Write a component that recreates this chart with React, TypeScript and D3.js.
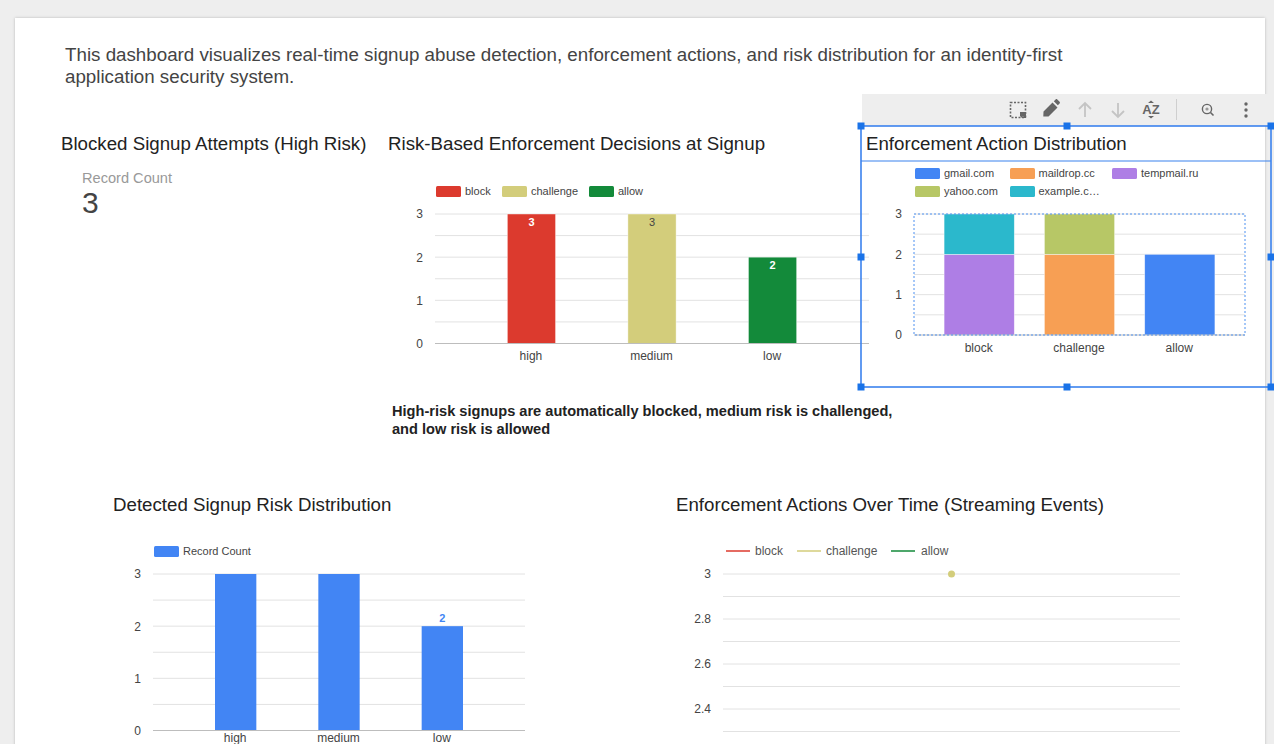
import { axisLeft, line, scaleBand, scaleLinear, scalePoint, select, stack } from 'd3';
import { useEffect, useRef } from 'react';

const riskLevels = ['high', 'medium', 'low'];
const actions = ['block', 'challenge', 'allow'];
const domains = ['gmail.com', 'maildrop.cc', 'tempmail.ru', 'yahoo.com', 'example.c…'];
const eventTimes = ['t1'];

const blockByRisk = [3, 0, 0];
const challengeByRisk = [0, 3, 0];
const allowByRisk = [0, 0, 2];

const gmailByAction = [0, 0, 2];
const maildropByAction = [0, 2, 0];
const tempmailByAction = [2, 0, 0];
const yahooByAction = [0, 1, 0];
const exampleByAction = [1, 0, 0];

const recordCountByRisk = [3, 3, 2];
const challengeOverTime = [3];

const countTicks = [0, 1, 2, 3];
const countMinorTicks = [0.5, 1, 1.5, 2, 2.5, 3];
const timeTicks = [2.4, 2.6, 2.8, 3];
const timeMinorTicks = [2.3, 2.4, 2.5, 2.6, 2.7, 2.8, 2.9, 3];

const actionColors = ['#dc3a2e', '#d3cd7b', '#138a3a'];
const domainColors = ['#4285f4', '#f79f54', '#ae7ee5', '#b7c766', '#2bb8cc'];
const blue = '#4285f4';
const selBlue = '#3b82ee';
const arial = '"Liberation Sans", Arial, sans-serif';

type Sel = any;

function text(g: Sel, x: number, y: number, s: string, size: number, fill: string, extra: any = {}) {
  const t = g
    .append('text')
    .attr('x', x)
    .attr('y', y)
    .attr('font-family', arial)
    .attr('font-size', size)
    .attr('fill', fill)
    .text(s);
  if (extra.anchor) t.attr('text-anchor', extra.anchor);
  if (extra.weight) t.attr('font-weight', extra.weight);
  return t;
}

function grid(g: Sel, y: any, ticks: number[], x0: number, x1: number) {
  g.selectAll(null)
    .data(ticks)
    .enter()
    .append('line')
    .attr('x1', x0)
    .attr('x2', x1)
    .attr('y1', (d: number) => y(d))
    .attr('y2', (d: number) => y(d))
    .attr('stroke', '#e2e2e2')
    .attr('stroke-width', 1);
}

function yAxis(g: Sel, y: any, ticks: number[], x: number) {
  const a = g
    .append('g')
    .attr('transform', `translate(${x},0)`)
    .call(axisLeft(y).tickValues(ticks).tickSize(0).tickPadding(0).tickFormat((d: any) => String(d)));
  a.select('.domain').remove();
  a.selectAll('text').attr('font-family', arial).attr('font-size', 12).attr('fill', '#444');
}

function swatches(g: Sel, names: string[], colors: string[], xs: number[], ys: number[], textXs: number[]) {
  names.forEach((n, i) => {
    g.append('rect').attr('x', xs[i]).attr('y', ys[i] - 5.5).attr('width', 25).attr('height', 11).attr('rx', 1.5).attr('fill', colors[i]);
    text(g, textXs[i], ys[i] + 3.5, n, 11, '#444');
  });
}

function stackedBars(g: Sel, cats: string[], keys: string[], series: number[][], colors: string[], x: any, y: any) {
  const rows = cats.map((c, i) => {
    const r: any = { cat: c };
    keys.forEach((k, j) => (r[k] = series[j][i]));
    return r;
  });
  const layers = stack().keys(keys)(rows);
  layers.forEach((layer: any, j: number) => {
    g.selectAll(null)
      .data(layer.filter((d: any) => d[1] > d[0]))
      .enter()
      .append('rect')
      .attr('x', (d: any) => x(d.data.cat))
      .attr('y', (d: any) => y(d[1]))
      .attr('width', x.bandwidth())
      .attr('height', (d: any) => y(d[0]) - y(d[1]))
      .attr('fill', colors[j])
      .attr('stroke', 'white')
      .attr('stroke-opacity', 0.6)
      .attr('stroke-width', 0.7);
  });
}

function catLabels(g: Sel, cats: string[], x: any, yPos: number) {
  cats.forEach((c) => {
    text(g, x(c)! + x.bandwidth() / 2 - 0.5, yPos, c, 12, '#444', { anchor: 'middle' });
  });
}

function baseline(g: Sel, x0: number, x1: number, yPos: number) {
  g.append('line').attr('x1', x0).attr('x2', x1).attr('y1', yPos).attr('y2', yPos).attr('stroke', '#bdbdbd').attr('stroke-width', 1);
}

function drawToolbar(svg: Sel) {
  const g = svg.append('g');
  g.append('rect').attr('x', 862).attr('y', 94).attr('width', 412).attr('height', 32).attr('fill', '#eeeeee');
  const ic = '#666';
  const off = '#c4c4c4';
  // select icon
  g.append('rect').attr('x', 1010.5).attr('y', 102.5).attr('width', 15).attr('height', 15).attr('fill', 'none').attr('stroke', ic).attr('stroke-width', 1.6).attr('stroke-dasharray', '2 1.5');
  g.append('path').attr('d', 'M1020 112h6v6h-2l-1-2-1 2-2-2z').attr('fill', ic);
  // pencil
  g.append('path').attr('d', 'M1043.5 111.5l9-9 5 5-9 9h-5.2zM1053.8 101.2l1.8-1.8c.5-.5 1.2-.5 1.7 0l2.3 2.3c.5.5.5 1.2 0 1.7l-1.8 1.8z').attr('fill', ic);
  // up / down arrows
  g.append('path').attr('d', 'M1085 117v-14M1079 109l6-6 6 6').attr('fill', 'none').attr('stroke', off).attr('stroke-width', 1.8);
  g.append('path').attr('d', 'M1118 103v14M1112 111l6 6 6-6').attr('fill', 'none').attr('stroke', off).attr('stroke-width', 1.8);
  // sort
  text(g, 1151, 114, 'AZ', 13, ic, { anchor: 'middle', weight: 700 });
  g.append('path').attr('d', 'M1148 103l3-2.5 3 2.5zM1148 116l3 2.5 3-2.5z').attr('fill', ic);
  g.append('line').attr('x1', 1176.5).attr('x2', 1176.5).attr('y1', 99).attr('y2', 120).attr('stroke', '#cfcfcf');
  // zoom
  g.append('circle').attr('cx', 1207).attr('cy', 109).attr('r', 4.6).attr('fill', 'none').attr('stroke', ic).attr('stroke-width', 1.4);
  g.append('path').attr('d', 'M1210.5 112.5l3 3').attr('stroke', ic).attr('stroke-width', 1.6);
  g.append('circle').attr('cx', 1207).attr('cy', 109).attr('r', 1.6).attr('fill', '#999');
  // more
  [104, 110, 116].forEach((cy) => g.append('circle').attr('cx', 1246).attr('cy', cy).attr('r', 1.7).attr('fill', ic));
}

function drawSelection(svg: Sel) {
  const g = svg.append('g');
  g.append('rect').attr('x', 861).attr('y', 126).attr('width', 410).attr('height', 261).attr('fill', 'none').attr('stroke', selBlue).attr('stroke-width', 1.6);
  g.append('line').attr('x1', 861).attr('x2', 1271).attr('y1', 161).attr('y2', 161).attr('stroke', selBlue).attr('stroke-width', 1.1);
  const hx = [861, 1067, 1271];
  const hy = [126, 257, 387];
  hx.forEach((x, i) =>
    hy.forEach((y, j) => {
      if (i === 1 && j === 1) return;
      g.append('rect').attr('x', x - 3.5).attr('y', y - 3.5).attr('width', 7).attr('height', 7).attr('fill', '#1a73e8');
    }),
  );
}

export default function App() {
  const svgRef = useRef<SVGSVGElement>(null);

  useEffect(() => {
    const svg = select(svgRef.current) as Sel;
    svg.selectAll('*').remove();

    // page + card
    svg.append('rect').attr('width', 1274).attr('height', 744).attr('fill', '#eeeeee');
    const defs = svg.append('defs');
    const blur = defs.append('filter').attr('id', 'cardShadow').attr('x', '-2%').attr('y', '-2%').attr('width', '104%').attr('height', '104%');
    blur.append('feDropShadow').attr('dx', 0).attr('dy', 0).attr('stdDeviation', 1.5).attr('flood-color', '#000').attr('flood-opacity', 0.22);
    svg.append('rect').attr('x', 15).attr('y', 18).attr('width', 1250).attr('height', 740).attr('fill', 'white').attr('filter', 'url(#cardShadow)');

    // header copy
    text(svg, 65, 61, 'This dashboard visualizes real-time signup abuse detection, enforcement actions, and risk distribution for an identity-first', 18.75, '#444');
    text(svg, 65, 83, 'application security system.', 18.75, '#444');

    // scorecard
    text(svg, 61, 150, 'Blocked Signup Attempts (High Risk)', 18.7, '#222');
    text(svg, 82, 183, 'Record Count', 14.6, '#999');
    text(svg, 82, 213, '3', 30, '#444');

    // risk-based enforcement
    text(svg, 388, 150, 'Risk-Based Enforcement Decisions at Signup', 18.7, '#222');
    const x1 = scaleBand<string>().domain(riskLevels).range([435, 869]).padding(0.6);
    const y1 = scaleLinear().domain([0, 3]).range([343.5, 214]);
    const g1 = svg.append('g');
    grid(g1, y1, countMinorTicks, 435, 869);
    stackedBars(g1, riskLevels, actions, [blockByRisk, challengeByRisk, allowByRisk], actionColors, x1, y1);
    baseline(g1, 435, 869, y1(0));
    yAxis(g1, y1, countTicks, 423);
    catLabels(g1, riskLevels, x1, 360);
    swatches(g1, actions, actionColors, [436, 502, 589], [191.5, 191.5, 191.5], [465, 531, 618]);
    const labelColors = ['white', '#444', 'white'];
    riskLevels.forEach((r, i) => {
      const v = blockByRisk[i] + challengeByRisk[i] + allowByRisk[i];
      text(g1, x1(r)! + x1.bandwidth() / 2, y1(v) + 12, String(v), 11, labelColors[i], { anchor: 'middle', weight: i === 1 ? 400 : 700 });
    });

    // annotation
    text(svg, 392, 416, 'High-risk signups are automatically blocked, medium risk is challenged,', 14.6, '#222', { weight: 700 });
    text(svg, 392, 434, 'and low risk is allowed', 14.6, '#222', { weight: 700 });

    // toolbar + selected chart
    drawToolbar(svg);
    text(svg, 866, 150, 'Enforcement Action Distribution', 18.7, '#222');
    const x2 = scaleBand<string>().domain(actions).range([914, 1245]).padding(0.3);
    const y2 = scaleLinear().domain([0, 3]).range([335, 214]);
    const g2 = svg.append('g');
    grid(g2, y2, countMinorTicks, 914, 1245);
    stackedBars(g2, actions, domains, [gmailByAction, maildropByAction, tempmailByAction, yahooByAction, exampleByAction], domainColors, x2, y2);
    baseline(g2, 914, 1245, y2(0));
    yAxis(g2, y2, countTicks, 902);
    catLabels(g2, actions, x2, 352);
    swatches(g2, domains, domainColors, [915, 1010, 1112, 915, 1010], [173.5, 173.5, 173.5, 191.5, 191.5], [944, 1038.5, 1141, 944, 1038.5]);
    g2.append('rect').attr('x', 914).attr('y', 214).attr('width', 331).attr('height', 121).attr('fill', 'none').attr('stroke', '#4d90f0').attr('stroke-dasharray', '2 2');
    drawSelection(svg);

    // risk distribution
    text(svg, 113, 511, 'Detected Signup Risk Distribution', 18.7, '#222');
    const x3 = scaleBand<string>().domain(riskLevels).range([153, 525]).padding(0.6);
    const y3 = scaleLinear().domain([0, 3]).range([730.5, 574]);
    const g3 = svg.append('g');
    grid(g3, y3, countMinorTicks, 153, 525);
    g3.selectAll(null)
      .data(riskLevels)
      .enter()
      .append('rect')
      .attr('x', (d: string) => x3(d)!)
      .attr('y', (_: string, i: number) => y3(recordCountByRisk[i]))
      .attr('width', x3.bandwidth())
      .attr('height', (_: string, i: number) => y3(0) - y3(recordCountByRisk[i]))
      .attr('fill', blue);
    baseline(g3, 153, 525, y3(0));
    yAxis(g3, y3, countTicks, 141);
    catLabels(g3, riskLevels, x3, 742);
    swatches(g3, ['Record Count'], [blue], [154], [551.5], [183]);
    text(g3, x3('low')! + x3.bandwidth() / 2, y3(2) - 4.5, '2', 11, blue, { anchor: 'middle', weight: 700 });

    // over time
    text(svg, 676, 511, 'Enforcement Actions Over Time (Streaming Events)', 18.7, '#222');
    const x4 = scalePoint<string>().domain(eventTimes).range([723, 1180]).padding(0.5);
    const y4 = scaleLinear().domain([2, 3]).range([799, 574]);
    const g4 = svg.append('g');
    grid(g4, y4, timeMinorTicks, 723, 1180);
    yAxis(g4, y4, timeTicks, 711);
    const lx = [726, 797, 891];
    const tx = [755, 826, 921];
    actions.forEach((a, i) => {
      g4.append('line').attr('x1', lx[i]).attr('x2', lx[i] + 24).attr('y1', 551).attr('y2', 551).attr('stroke', actionColors[i]).attr('stroke-width', 1.5);
      text(g4, tx[i], 555, a, 12, '#555');
    });
    const path = line<number>()
      .x((_, i) => x4(eventTimes[i])!)
      .y((d) => y4(d));
    g4.append('path').attr('d', path(challengeOverTime)).attr('fill', 'none').attr('stroke', actionColors[1]).attr('stroke-width', 1.5);
    g4.selectAll(null)
      .data(challengeOverTime)
      .enter()
      .append('circle')
      .attr('cx', (_: number, i: number) => x4(eventTimes[i])!)
      .attr('cy', (d: number) => y4(d))
      .attr('r', 3.5)
      .attr('fill', actionColors[1]);
  }, []);

  return <svg ref={svgRef} width={1274} height={744} style={{ position: 'absolute', left: 0, top: 0, display: 'block' }}></svg>;
}
